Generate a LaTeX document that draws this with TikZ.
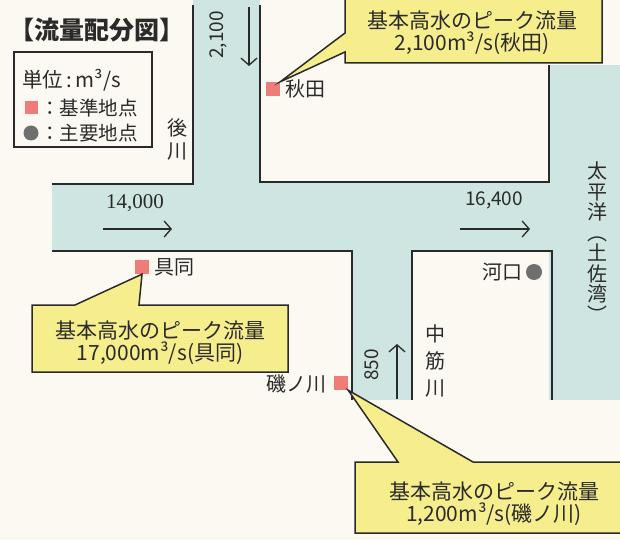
\documentclass[tikz,border=0pt]{standalone}
\usepackage{fontspec}
\newfontfamily\jp{Noto Sans CJK JP}
\newfontfamily\serifnum{Liberation Serif}
\usetikzlibrary{arrows.meta}
\definecolor{bgc}{HTML}{FBF9F2}
\definecolor{riverc}{HTML}{CFE5E1}
\definecolor{linec}{HTML}{2A2A2A}
\definecolor{callc}{HTML}{F6EE8C}
\definecolor{redc}{HTML}{EE7D7A}
\definecolor{dotc}{HTML}{6E7070}
\begin{document}
\begin{tikzpicture}[x=1pt,y=-1pt,
  bank/.style={draw=linec,line width=1.8pt},
  callout/.style={fill=callc,draw=linec,line width=1.5pt,line join=miter},
  flow/.style={draw=linec,line width=1.3pt,-{Straight Barb[length=7pt,width=16pt,line width=1.3pt]}},
  lab/.style={font=\jp\fontsize{20}{23}\selectfont,text=linec,inner sep=0pt},
  leg/.style={lab,font=\jp\fontsize{19.5}{21}\selectfont,anchor=west},
  vlab/.style={lab,align=center},
  calltext/.style={font=\jp\fontsize{21}{22}\selectfont,text=linec,align=center,inner sep=0pt},
  num/.style={font=\jp\fontsize{19}{20}\selectfont,text=linec,inner sep=0pt},
  refpt/.style={fill=redc,minimum size=14pt,inner sep=0pt},
  mainpt/.style={circle,fill=dotc,minimum size=16pt,inner sep=0pt}]
\useasboundingbox (0,0) rectangle (620,540);
\fill[bgc] (0,0) rectangle (620,540);
% water
\fill[riverc] (193,0) rectangle (260,184);
\fill[riverc] (52,183) rectangle (620,251);
\fill[riverc] (549,65) rectangle (620,400);
\fill[riverc] (352,249) rectangle (412,400);
% banks
\draw[bank] (193,5) -- (193,184) -- (52,184);
\draw[bank] (260,5) -- (260,182) -- (549,182) -- (549,65);
\draw[bank] (52,251) -- (352,251) -- (352,400);
\draw[bank] (412,400) -- (412,251) -- (552,251) -- (552,400);
% title
\node[font=\jp\bfseries\fontsize{25}{27}\selectfont,text=linec,inner sep=0pt] (title) at (97,30) {【流量配分図】};
% legend
\draw[draw=linec,line width=1.2pt] (14,52) rectangle (152,147);
\node[leg,font=\jp\fontsize{20.5}{22}\selectfont] (unit) at (22,80) {単位\,:\,m³/s};
\node[refpt,minimum size=13pt] (legsq) at (31,108) {};
\node[leg] (legsqt) at (40,108) {：基準地点};
\node[mainpt,minimum size=15pt] (legdot) at (31,133) {};
\node[leg] (legdott) at (40,133) {：主要地点};
% river names
\node[vlab] (ushiro) at (177,139) {後\\川};
\node[vlab,font=\jp\fontsize{20}{27}\selectfont] (nakasuji) at (435,361) {中\\筋\\川};
\node[vlab,font=\jp\fontsize{20}{20.5}\selectfont] (pacific) at (597,242) {太\\平\\洋\\︵\\土\\佐\\湾\\︶};
% flows
\node[num,rotate=90] (q2100) at (218,35) {2,100};
\coordinate (a1s) at (249,7); \coordinate (a1e) at (249,66);
\draw[flow] (a1s) -- (a1e);
\node[num,font=\serifnum\fontsize{21}{22}\selectfont] (q14000) at (135,203) {14,000};
\coordinate (a2s) at (103,229); \coordinate (a2e) at (172,229);
\draw[flow] (a2s) -- (a2e);
\node[num] (q16400) at (494,200) {16,400};
\coordinate (a3s) at (460,229); \coordinate (a3e) at (530,229);
\draw[flow] (a3s) -- (a3e);
\node[num,rotate=90] (q850) at (372,365) {850};
\coordinate (a4s) at (397,399); \coordinate (a4e) at (397,344);
\draw[flow] (a4s) -- (a4e);
% points
\node[refpt] (akita) at (273,89) {};
\node[lab,anchor=west] (akitat) at (285,89) {秋田};
\node[refpt] (gudo) at (142,267) {};
\node[lab,anchor=west] (gudot) at (154,267) {具同};
\node[refpt] (iso) at (341,383) {};
\node[lab,anchor=east] (isot) at (327,384) {磯ノ川};
\node[mainpt] (kako) at (534,272) {};
\node[lab,anchor=east] (kakot) at (523,272) {河口};
% callouts
\draw[callout] (345,-3) -- (345,33) -- (akita.north east) -- (345,52) -- (345,63) -- (602,63) -- (602,-3) -- cycle;
\node[calltext] (c1) at (472,33) {基本高水のピーク流量\\2,100m³/s(秋田)};
\draw[callout] (32,305) -- (75,305) -- (gudo.south) -- (139,305) -- (288,305) -- (288,372) -- (32,372) -- cycle;
\node[calltext] (c2) at (160,343) {基本高水のピーク流量\\17,000m³/s(具同)};
\draw[callout] (355,462) -- (398,462) -- (iso.south east) -- (473,462) -- (625,462) -- (625,533) -- (355,533) -- cycle;
\node[calltext] (c3) at (494,504) {基本高水のピーク流量\\1,200m³/s(磯ノ川)};
\end{tikzpicture}
\end{document}
